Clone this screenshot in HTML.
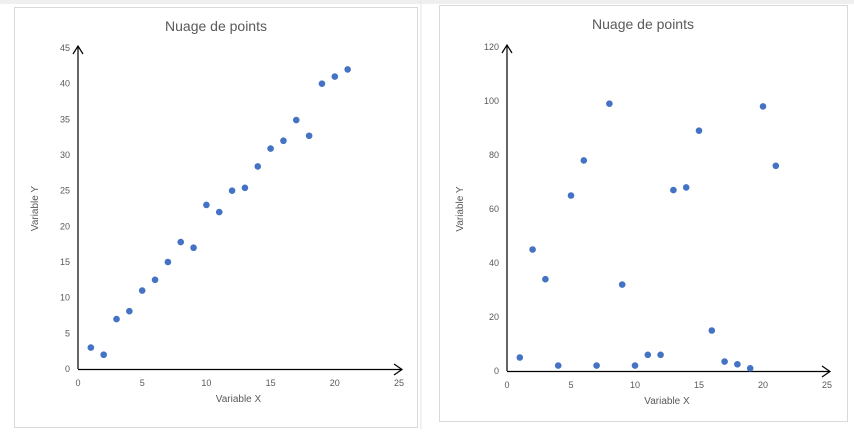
<!DOCTYPE html>
<html><head><meta charset="utf-8"><style>
body{margin:0;background:#fff;width:854px;height:429px;overflow:hidden;font-family:"Liberation Sans",sans-serif}
svg text{font-family:"Liberation Sans",sans-serif}
</style></head><body>
<svg id="s" width="854" height="429">
<rect x="0" y="0" width="854" height="4" fill="#efefef"/>
<line x1="421" y1="0" x2="421" y2="429" stroke="#e6e6e6"/>
<rect x="14.5" y="7.5" width="403" height="420" fill="#fff" stroke="#d9d9d9"/>
<rect x="439.5" y="5.5" width="408" height="416" fill="#fff" stroke="#d9d9d9"/>
<g id="c1"></g><g id="c2"></g>
</svg>
<script>
const xs1=[1,2,3,4,5,6,7,8,9,10,11,12,13,14,15,16,17,18,19,20,21];
const ys1=[3,2,7,8.1,11,12.5,15,17.8,17,23,22,25,25.4,28.4,30.9,32,34.9,32.7,40,41,42];
const xTicks1=[0,5,10,15,20,25];
const yTicks1=[0,5,10,15,20,25,30,35,40,45];
const xs2=[1,2,3,4,5,6,7,8,9,10,11,12,13,14,15,16,17,18,19,20,21];
const ys2=[5,45,34,2,65,78,2,99,32,2,6,6,67,68,89,15,3.5,2.5,1,98,76];
const xTicks2=[0,5,10,15,20,25];
const yTicks2=[0,20,40,60,80,100,120];
const NS="http://www.w3.org/2000/svg";
function mk(p,t,a){const e=document.createElementNS(NS,t);for(const k in a)e.setAttribute(k,a[k]);p.appendChild(e);return e;}
function chart(g,xs,ys,xt,yt,o){
 const X=v=>o.x0+(v-xt[0])/(xt[xt.length-1]-xt[0])*(o.x1-o.x0);
 const Y=v=>o.y0-(v-yt[0])/(yt[yt.length-1]-yt[0])*(o.y0-o.y1);
 let t=mk(g,'text',{x:o.tx,y:o.ty,'text-anchor':'middle','font-size':14,fill:'#595959'});t.textContent='Nuage de points';
 
 
 xt.forEach(v=>{const e=mk(g,'text',{x:X(v),y:o.y0+17,'text-anchor':'middle','font-size':9,fill:'#595959'});e.textContent=v;
 
 });
 yt.forEach(v=>{const e=mk(g,'text',{x:o.x0-8,y:Y(v)+3,'text-anchor':'end','font-size':9,fill:'#595959'});e.textContent=v;
 
 });
 let a=mk(g,'path',{d:`M${o.x0} ${o.y0+0.5}H${o.x1+3}M${o.x1-5} ${o.y0-5}L${o.x1+3} ${o.y0+0.5}L${o.x1-5} ${o.y0+6}`,stroke:'#000',fill:'none','stroke-width':1.2});
 
 
 let b=mk(g,'path',{d:`M${o.x0} ${o.y0}V${o.y1-2}M${o.x0-5} ${o.y1+6}L${o.x0} ${o.y1-2}L${o.x0+5} ${o.y1+6}`,stroke:'#000',fill:'none','stroke-width':1.2});
 
 
 let xl=mk(g,'text',{x:(o.x0+o.x1)/2,y:o.y0+33,'text-anchor':'middle','font-size':10,fill:'#595959'});xl.textContent='Variable X';
 
 
 const cy=(o.y0+o.y1)/2;
 let yl=mk(g,'text',{x:o.yx,y:cy,'text-anchor':'middle','font-size':10,fill:'#595959',transform:`rotate(-90 ${o.yx} ${cy})`});yl.textContent='Variable Y';
 
 
 xs.forEach((x,i)=>{const c=mk(g,'circle',{cx:X(x),cy:Y(ys[i]),r:3.3,fill:'#4472c4'});
 
 });
}
chart(document.getElementById('c1'),xs1,ys1,xTicks1,yTicks1,{x0:78,x1:399,y0:369,y1:48,tx:216,ty:31,yx:38});
chart(document.getElementById('c2'),xs2,ys2,xTicks2,yTicks2,{x0:507,x1:827,y0:371,y1:47,tx:643,ty:29,yx:463});
</script>
</body></html>
